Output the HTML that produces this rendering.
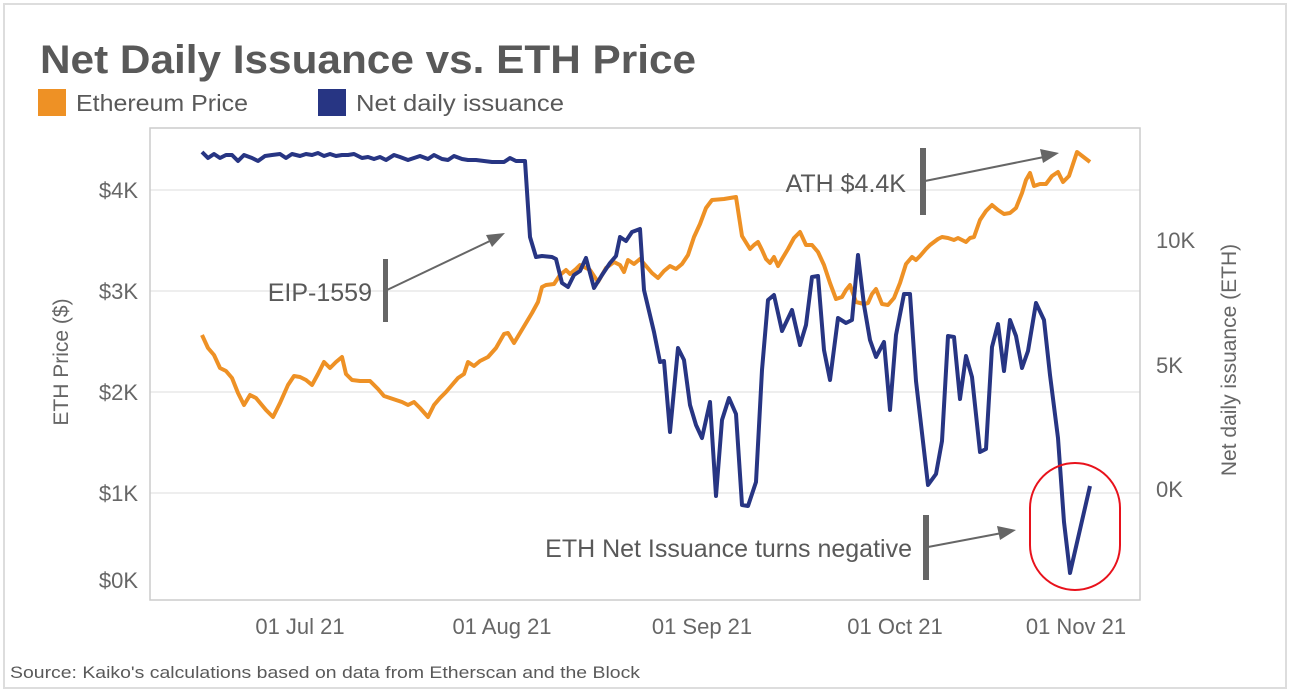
<!DOCTYPE html>
<html><head><meta charset="utf-8"><style>
html,body{margin:0;padding:0;background:#fff;}
svg{display:block;font-family:"Liberation Sans",sans-serif;}
</style></head><body>
<svg width="1292" height="694" viewBox="0 0 1292 694" xmlns="http://www.w3.org/2000/svg">
<rect x="4" y="4" width="1282" height="684" fill="#fff" stroke="#ddd" stroke-width="2"/>
<text x="40" y="73" font-size="40" font-weight="bold" fill="#595959" textLength="656" lengthAdjust="spacingAndGlyphs">Net Daily Issuance vs. ETH Price</text>
<rect x="38" y="89" width="28" height="27" fill="#ee9125"/>
<text x="76" y="111" font-size="23" fill="#595959" textLength="172" lengthAdjust="spacingAndGlyphs">Ethereum Price</text>
<rect x="318" y="89" width="28" height="27" fill="#273583"/>
<text x="356" y="111" font-size="23" fill="#595959" textLength="208" lengthAdjust="spacingAndGlyphs">Net daily issuance</text>
<g stroke="#eeeeee" stroke-width="2">
<line x1="150" y1="190" x2="1140" y2="190"/><line x1="150" y1="291" x2="1140" y2="291"/>
<line x1="150" y1="392" x2="1140" y2="392"/><line x1="150" y1="493" x2="1140" y2="493"/>
</g>
<rect x="150" y="128" width="990" height="472" fill="none" stroke="#ccc" stroke-width="1.5"/>
<g font-size="22" fill="#666" text-anchor="end">
<text x="138" y="198">$4K</text><text x="138" y="299">$3K</text><text x="138" y="400">$2K</text><text x="138" y="501">$1K</text><text x="138" y="588">$0K</text>
</g>
<g font-size="22" fill="#666">
<text x="1156" y="248">10K</text><text x="1156" y="373">5K</text><text x="1156" y="497">0K</text>
</g>
<g font-size="22" fill="#666" text-anchor="middle">
<text x="300" y="634">01 Jul 21</text><text x="502" y="634">01 Aug 21</text><text x="702" y="634">01 Sep 21</text><text x="895" y="634">01 Oct 21</text><text x="1076" y="634">01 Nov 21</text>
</g>
<text transform="translate(68,362) rotate(-90)" font-size="21" fill="#666" text-anchor="middle">ETH Price ($)</text>
<text transform="translate(1236,360) rotate(-90)" font-size="21" fill="#666" text-anchor="middle">Net daily issuance (ETH)</text>
<text x="10" y="678" font-size="17" fill="#595959" textLength="630" lengthAdjust="spacingAndGlyphs">Source: Kaiko's calculations based on data from Etherscan and the Block</text>
<polyline fill="none" stroke="#ee9125" stroke-width="4" stroke-linejoin="round" points="202,335 208,348 214,355 220,368 226,371 232,378 238,393 244,405 250,395 256,398 266,410 273,417 280,403 288,385 294,376 300,377 306,380 312,385 318,374 324,362 330,368 336,362 342,357 346,374 352,380 360,381 370,381 378,389 384,396 390,398 396,400 402,402 408,405 414,402 420,408 428,417 434,405 440,398 446,392 452,385 458,378 464,374 468,362 474,366 480,361 488,357 496,348 504,334 508,333 514,343 520,333 526,323 532,313 538,302 542,287 546,285 554,284 560,275 566,270 570,274 576,269 580,265 590,270 598,282 606,268 614,262 620,265 624,272 628,260 634,264 640,259 646,266 652,273 658,278 664,271 670,266 676,269 682,264 688,255 694,237 700,224 706,208 712,200 724,199 736,197 742,236 750,249 754,245 758,242 762,250 766,259 770,263 774,257 778,266 782,259 788,249 794,238 800,232 806,245 812,245 818,252 824,265 830,283 836,299 842,297 846,290 850,285 856,302 864,304 868,303 872,294 876,289 882,304 888,305 894,298 900,283 906,264 912,257 916,260 920,256 926,249 930,245 938,239 942,237 948,238 954,240 958,238 962,240 966,242 970,238 974,237 980,220 986,211 992,205 998,210 1004,214 1010,213 1016,208 1022,193 1026,180 1030,173 1034,186 1040,184 1046,184 1052,176 1058,172 1063,182 1069,176 1077,152 1090,162"/>
<polyline fill="none" stroke="#273583" stroke-width="4" stroke-linejoin="round" points="202,152 208,158 214,154 220,158 226,155 232,155 238,161 244,155 252,158 258,161 265,156 272,155 280,154 286,158 292,154 300,156 306,154 312,155 318,153 324,156 330,154 336,156 342,155 348,155 354,154 362,158 368,157 374,159 380,157 386,160 394,155 400,157 408,160 414,158 420,156 428,159 434,155 442,159 448,160 454,156 462,159 468,160 476,160 484,161 492,162 498,162 504,162 510,158 516,161 525,161 530,237 536,257 542,256 552,257 556,259 562,283 568,287 574,275 580,271 586,258 594,288 602,275 610,263 616,256 620,237 626,241 632,232 640,229 644,290 654,332 660,362 664,361 670,432 678,348 684,360 690,405 696,425 702,438 710,402 716,496 722,420 729,398 736,414 742,505 748,506 756,482 762,370 768,300 774,295 782,331 792,310 800,345 806,325 812,277 818,276 824,350 830,380 838,318 846,323 852,320 858,255 864,305 870,340 876,357 884,342 890,410 896,335 904,294 910,294 916,381 928,485 936,474 942,441 948,336 954,337 960,399 966,356 972,377 980,452 986,449 992,347 998,324 1004,371 1010,320 1016,336 1022,368 1028,351 1036,303 1044,320 1050,375 1058,438 1064,522 1070,573 1090,486"/>
<rect x="1030" y="463" width="90" height="127" rx="45" ry="45" fill="none" stroke="#e8121c" stroke-width="2"/>
<g fill="#666" stroke="#666">
<rect x="383" y="259" width="5" height="63" stroke="none"/>
<line x1="387" y1="290" x2="492" y2="240" stroke-width="2"/>
<polygon points="505,233 486,235 492,247" stroke="none"/>
<rect x="920" y="148" width="6" height="67" stroke="none"/>
<line x1="925" y1="181" x2="1044" y2="157" stroke-width="2"/>
<polygon points="1059,153 1040,149 1043,163" stroke="none"/>
<rect x="923" y="515" width="6" height="65" stroke="none"/>
<line x1="928" y1="547" x2="1002" y2="533" stroke-width="2"/>
<polygon points="1016,530 997,526 1000,540" stroke="none"/>
</g>
<g font-size="25" fill="#595959" text-anchor="end">
<text x="372" y="301">EIP-1559</text>
<text x="906" y="192">ATH $4.4K</text>
<text x="912" y="557">ETH Net Issuance turns negative</text>
</g>
</svg>
</body></html>
